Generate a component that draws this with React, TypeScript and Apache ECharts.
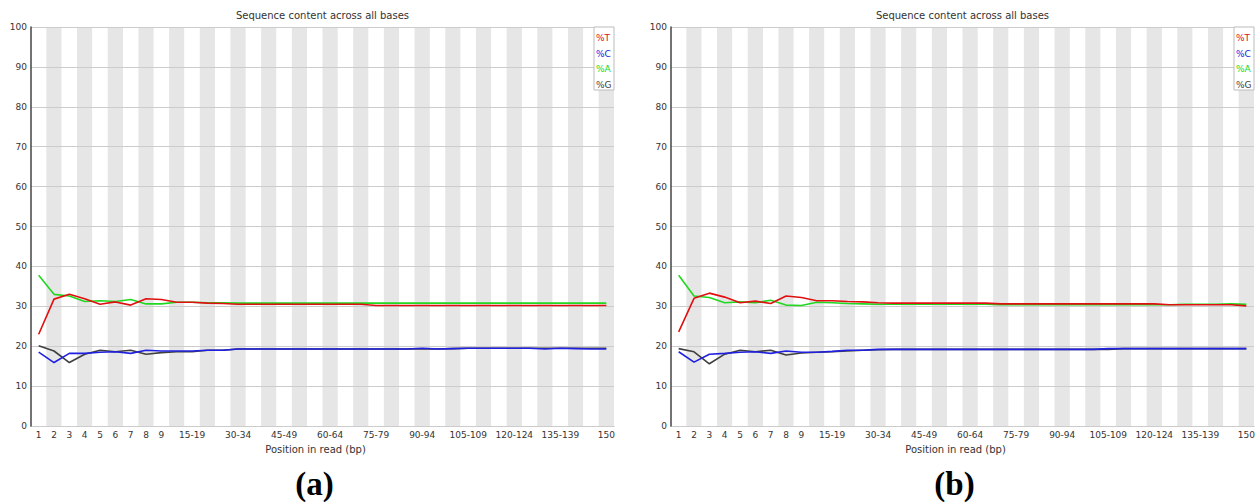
import React, { useEffect, useRef } from "react";
import * as echarts from "echarts";

const categories = [
  "1", "2", "3", "4", "5", "6", "7", "8", "9",
  "10-14", "15-19", "20-24", "25-29", "30-34", "35-39", "40-44", "45-49",
  "50-54", "55-59", "60-64", "65-69", "70-74", "75-79", "80-84", "85-89",
  "90-94", "95-99", "100-104", "105-109", "110-114", "115-119", "120-124",
  "125-129", "130-134", "135-139", "140-144", "145-149", "150",
];

const yTicks = [0, 10, 20, 30, 40, 50, 60, 70, 80, 90, 100];

// Panel (a)
const aT = [23.0, 31.8, 33.0, 31.9, 30.5, 31.1, 30.3, 31.9, 31.7, 31.0, 31.0, 30.8, 30.7, 30.5, 30.5, 30.5, 30.5, 30.5, 30.5, 30.5, 30.5, 30.5, 30.2, 30.2, 30.2, 30.2, 30.2, 30.2, 30.2, 30.2, 30.2, 30.2, 30.2, 30.2, 30.2, 30.2, 30.2, 30.2];
const aC = [18.5, 15.9, 18.2, 18.2, 18.5, 18.6, 18.2, 19.0, 18.8, 18.8, 18.8, 19.0, 19.0, 19.3, 19.3, 19.3, 19.3, 19.3, 19.3, 19.3, 19.3, 19.3, 19.3, 19.3, 19.3, 19.5, 19.3, 19.4, 19.5, 19.5, 19.5, 19.5, 19.5, 19.3, 19.5, 19.4, 19.3, 19.3];
const aA = [37.8, 33.0, 32.6, 31.2, 31.4, 31.2, 31.7, 30.6, 30.6, 31.0, 31.0, 30.9, 30.9, 30.8, 30.8, 30.8, 30.8, 30.8, 30.8, 30.8, 30.8, 30.8, 30.8, 30.8, 30.8, 30.8, 30.8, 30.8, 30.8, 30.8, 30.8, 30.8, 30.8, 30.8, 30.8, 30.8, 30.8, 30.8];
const aG = [20.1, 18.8, 15.9, 18.0, 19.0, 18.6, 19.0, 18.0, 18.4, 18.6, 18.6, 19.0, 19.0, 19.3, 19.3, 19.3, 19.3, 19.3, 19.3, 19.3, 19.3, 19.3, 19.3, 19.3, 19.3, 19.3, 19.3, 19.4, 19.5, 19.5, 19.5, 19.5, 19.5, 19.5, 19.5, 19.5, 19.5, 19.5];

// Panel (b)
const bT = [23.6, 32.0, 33.3, 32.3, 30.9, 31.3, 30.7, 32.6, 32.2, 31.4, 31.4, 31.2, 31.1, 30.9, 30.8, 30.8, 30.8, 30.8, 30.8, 30.8, 30.8, 30.6, 30.6, 30.6, 30.6, 30.6, 30.6, 30.6, 30.6, 30.6, 30.6, 30.6, 30.4, 30.4, 30.4, 30.4, 30.4, 30.1];
const bC = [18.6, 16.0, 18.0, 18.2, 18.5, 18.6, 18.2, 18.8, 18.5, 18.5, 18.7, 19.0, 19.0, 19.2, 19.2, 19.2, 19.2, 19.2, 19.2, 19.2, 19.2, 19.2, 19.2, 19.2, 19.2, 19.2, 19.2, 19.2, 19.4, 19.4, 19.4, 19.4, 19.4, 19.4, 19.4, 19.4, 19.4, 19.4];
const bA = [37.8, 32.6, 32.2, 30.9, 31.1, 30.9, 31.5, 30.3, 30.2, 31.0, 30.9, 30.7, 30.6, 30.5, 30.5, 30.5, 30.5, 30.5, 30.5, 30.5, 30.5, 30.4, 30.4, 30.4, 30.4, 30.4, 30.4, 30.4, 30.4, 30.4, 30.4, 30.4, 30.4, 30.5, 30.5, 30.5, 30.6, 30.5];
const bG = [19.4, 18.6, 15.6, 18.0, 19.0, 18.6, 19.0, 17.8, 18.3, 18.5, 18.6, 18.8, 19.0, 19.1, 19.2, 19.2, 19.2, 19.2, 19.2, 19.2, 19.2, 19.2, 19.2, 19.2, 19.2, 19.2, 19.2, 19.2, 19.2, 19.4, 19.4, 19.4, 19.4, 19.4, 19.4, 19.4, 19.4, 19.4];

const seriesNames = ["%T", "%C", "%A", "%G"];
const seriesColors = ["#e01010", "#2020e0", "#20d820", "#404040"];
const titleText = "Sequence content across all bases";
const xName = "Position in read (bp)";
const panelLabels = ["(a)", "(b)"];

const FONT = "DejaVu Sans";

export default function App() {
  const ref = useRef<HTMLDivElement>(null);

  useEffect(() => {
    document.body.style.margin = "0";
    if (!ref.current) return;
    const chart = echarts.init(ref.current, null, { renderer: "svg" });

    const grids = [
      { left: 31, right: 646, top: 27, bottom: 78 },
      { left: 671, right: 6, top: 27, bottom: 78 },
    ];
    const plotLeft = [31, 671];
    const plotRight = [614, 1254];

    const labelInterval = (i: number) =>
      i <= 8 || (i >= 10 && (i - 10) % 3 === 0) || i === 37;

    const xAxes = [0, 1].map((g) => ({
      type: "category",
      gridIndex: g,
      data: categories,
      boundaryGap: true,
      name: xName,
      nameLocation: "middle",
      nameGap: 18,
      nameTextStyle: {
        fontFamily: FONT,
        fontSize: 10,
        color: "#333",
        padding: [0, 14, 0, 0],
      },
      axisLine: { show: true, lineStyle: { color: "#aaaaaa", width: 1 } },
      axisTick: { show: false },
      axisLabel: {
        interval: (i: number) => labelInterval(i),
        margin: 4,
        fontFamily: FONT,
        fontSize: 9,
        color: "#333",
      },
      splitLine: { show: false },
      splitArea: {
        show: true,
        interval: 0,
        areaStyle: { color: ["#ffffff", "#e6e6e6"] },
      },
    }));

    const yAxes = [0, 1].map((g) => ({
      type: "value",
      gridIndex: g,
      min: yTicks[0],
      max: yTicks[yTicks.length - 1],
      interval: 10,
      axisLine: { show: true, lineStyle: { color: "#444444", width: 1.5 } },
      axisTick: { show: false },
      axisLabel: {
        margin: 4,
        fontFamily: FONT,
        fontSize: 9,
        color: "#333",
      },
      splitLine: { show: true, lineStyle: { color: "#cccccc", width: 1 } },
      z: 3,
    }));

    const panels = [
      [aT, aC, aA, aG],
      [bT, bC, bA, bG],
    ];

    const series: any[] = [];
    panels.forEach((p, g) => {
      p.forEach((vals, k) => {
        series.push({
          type: "line",
          name: seriesNames[k],
          xAxisIndex: g,
          yAxisIndex: g,
          data: vals,
          showSymbol: false,
          lineStyle: { color: seriesColors[k], width: 1.6 },
          itemStyle: { color: seriesColors[k] },
          z: 5 + (3 - k),
        });
      });
    });

    const graphic: any[] = [];
    [0, 1].forEach((g) => {
      const lx = plotRight[g] - 20;
      graphic.push({
        type: "rect",
        shape: { x: lx, y: 27, width: 20, height: 63 },
        style: { fill: "#ffffff", stroke: "#bbbbbb", lineWidth: 1 },
        z: 100,
      });
      seriesNames.forEach((n, k) => {
        graphic.push({
          type: "text",
          x: lx + 2,
          y: 38 + k * 15.7,
          style: {
            text: n,
            fill: seriesColors[k],
            font: `9px "${FONT}"`,
            textAlign: "left",
            textVerticalAlign: "middle",
          },
          z: 101,
        });
      });
      graphic.push({
        type: "text",
        x: (plotLeft[g] + plotRight[g]) / 2 - 8,
        y: 484,
        style: {
          text: panelLabels[g],
          fill: "#000",
          font: `bold 33px "Liberation Serif"`,
          textAlign: "center",
          textVerticalAlign: "middle",
        },
        z: 101,
      });
    });

    chart.setOption({
      animation: false,
      backgroundColor: "#ffffff",
      title: [0, 1].map((g) => ({
        text: titleText,
        left: (plotLeft[g] + plotRight[g]) / 2,
        top: 10,
        padding: 0,
        textAlign: "center",
        textStyle: {
          fontFamily: FONT,
          fontSize: 10,
          fontWeight: "normal",
          color: "#333",
        },
      })),
      grid: grids,
      xAxis: xAxes,
      yAxis: yAxes,
      series,
      graphic,
    });

    return () => chart.dispose();
  }, []);

  return <div ref={ref} style={{ width: 1260, height: 504 }} />;
}
